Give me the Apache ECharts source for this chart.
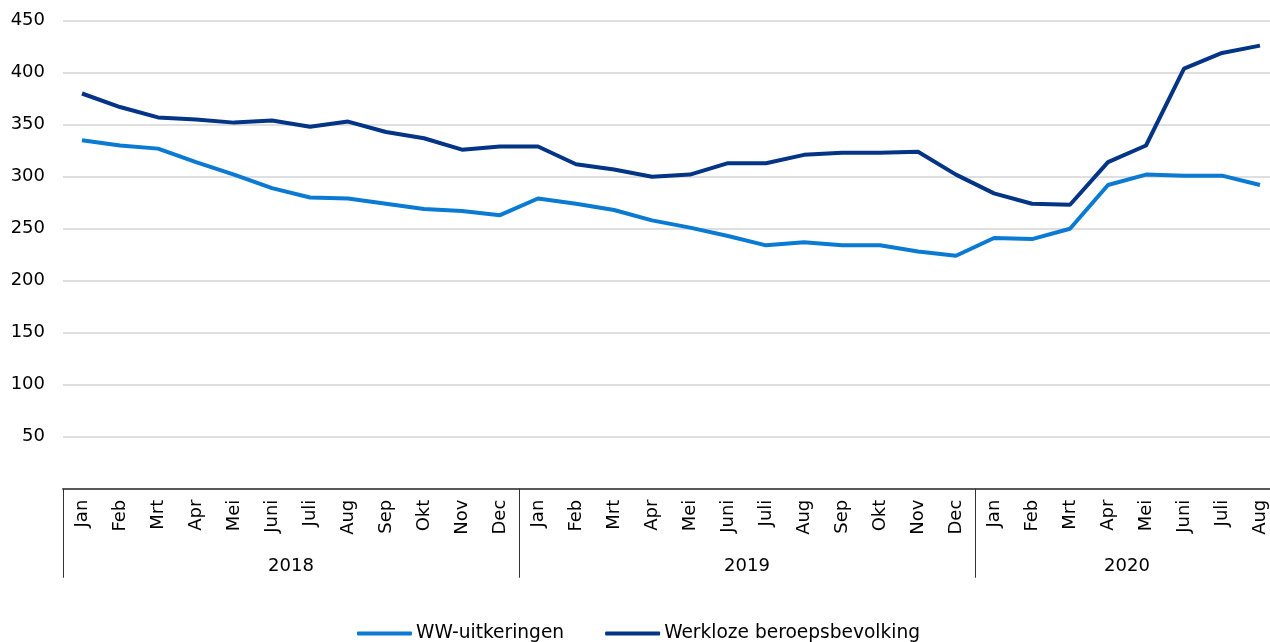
<!DOCTYPE html>
<html>
<head>
<meta charset="utf-8">
<script src="https://cdn.jsdelivr.net/npm/echarts@6/dist/echarts.min.js"></script>
<style>
  html, body { margin: 0; padding: 0; background: #fff; }
  #chart { width: 1270px; height: 642px; }
</style>
</head>
<body>
<div id="chart"></div>
<script>
var years = ['2018', '2019', '2020'];
var monthsPerYear = [12, 12, 8];
var monthNames = ['Jan', 'Feb', 'Mrt', 'Apr', 'Mei', 'Juni', 'Juli', 'Aug', 'Sep', 'Okt', 'Nov', 'Dec'];

// x 1000
var wwUitkeringen = [
  335, 330, 327, 314, 302, 289, 280, 279, 274, 269, 267, 263,
  279, 274, 268, 258, 251, 243, 234, 237, 234, 234, 228, 224,
  241, 240, 250, 292, 302, 301, 301, 292
];
var werklozeBeroepsbevolking = [
  380, 367, 357, 355, 352, 354, 348, 353, 343, 337, 326, 329,
  329, 312, 307, 300, 302, 313, 313, 321, 323, 323, 324, 302,
  284, 274, 273, 314, 330, 404, 419, 426
];

var months = [];
var yearBounds = [0];
var yearMids = [];
monthsPerYear.forEach(function (n, i) {
  for (var m = 0; m < n; m++) months.push(monthNames[m]);
  var start = yearBounds[yearBounds.length - 1];
  yearMids.push(start + n / 2);
  yearBounds.push(start + n);
});

var font = 'DejaVu Sans, Verdana, sans-serif';
var chart = echarts.init(document.getElementById('chart'), null, { renderer: 'canvas' });

var option = {
  animation: false,
  textStyle: { fontFamily: font, color: '#000' },
  // plot runs a little past the right edge, as in the original
  grid: { left: 63, width: 1216, top: 20.7, bottom: 153.3, outerBoundsMode: 'none', containLabel: false },
  legend: {
    left: 357,
    top: 624,
    padding: 0,
    icon: 'roundRect',
    itemWidth: 55,
    itemHeight: 4,
    itemGap: 41,
    textStyle: { fontSize: 18.6, fontFamily: font, color: '#000', padding: [0, 0, 0, -1] },
    data: ['WW-uitkeringen', 'Werkloze beroepsbevolking']
  },
  xAxis: [{
    type: 'category',
    data: months,
    boundaryGap: true,
    axisLine: { lineStyle: { color: '#595959', width: 2 } },
    axisTick: { show: false },
    axisLabel: {
      rotate: 90,
      margin: 11,
      fontSize: 18,
      fontFamily: font,
      color: '#000',
      interval: 0
    }
  }, {
    type: 'value',
    position: 'bottom',
    min: 0,
    max: months.length,
    axisLine: { show: false },
    splitLine: { show: false },
    axisTick: {
      show: true,
      customValues: yearBounds,
      length: 89,
      lineStyle: { color: '#333', width: 1 }
    },
    axisLabel: {
      customValues: yearMids,
      margin: 69,
      fontSize: 18,
      fontFamily: font,
      color: '#000',
      formatter: function (v) {
        var i = yearMids.indexOf(v);
        return i >= 0 ? years[i] : '';
      }
    }
  }],
  yAxis: {
    type: 'value',
    min: 0,
    max: 450,
    interval: 50,
    axisLine: { show: false },
    axisTick: { show: false },
    splitLine: { lineStyle: { color: '#d4d4d4', width: 1.5 } },
    axisLabel: {
      margin: 18,
      fontSize: 18,
      fontFamily: font,
      color: '#000',
      formatter: function (v) { return v === 0 ? '' : v; }
    }
  },
  series: [{
    name: 'WW-uitkeringen',
    type: 'line',
    data: wwUitkeringen,
    symbol: 'none',
    lineStyle: { color: '#0a7ad3', width: 4 },
    itemStyle: { color: '#0a7ad3' }
  }, {
    name: 'Werkloze beroepsbevolking',
    type: 'line',
    data: werklozeBeroepsbevolking,
    symbol: 'none',
    lineStyle: { color: '#033486', width: 4 },
    itemStyle: { color: '#033486' }
  }]
};

chart.setOption(option);
</script>
</body>
</html>
